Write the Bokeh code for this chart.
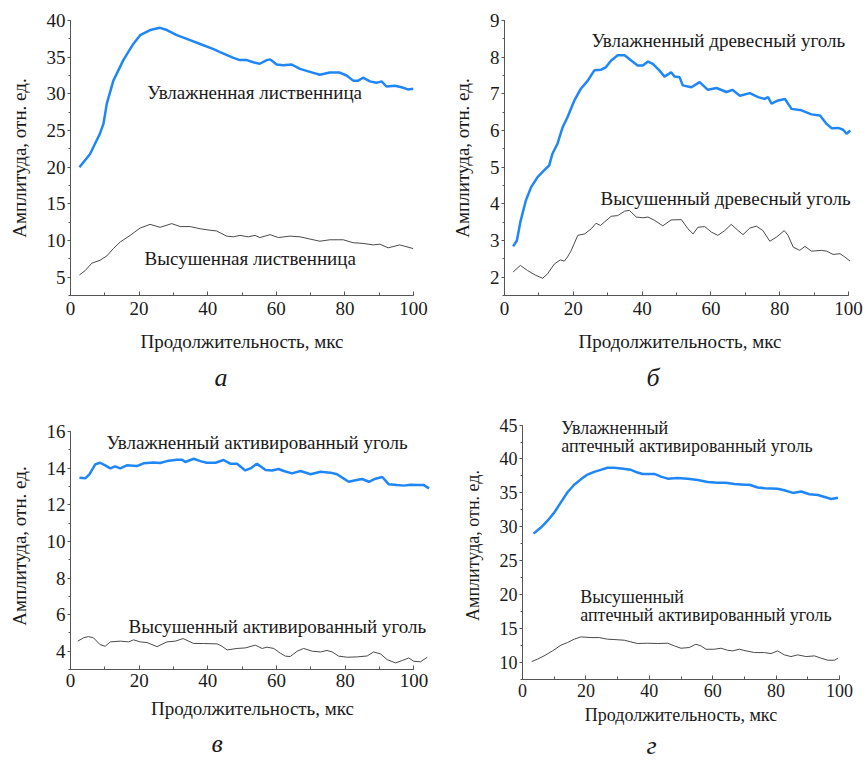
from bokeh.plotting import figure
from bokeh.layouts import column, row
from bokeh.models import Label, SingleIntervalTicker, Title
from bokeh.embed import file_html
from bokeh.resources import INLINE

FONT = "Liberation Serif"
BLUE = "#1f86f7"
GRAY = "#4a4a4a"

# ---- panel a: larch ----
a_wet_x = [2.6, 5.7, 8.6, 9.6, 10.6, 12.5, 15.4, 18.3, 20.3, 23.2, 26.1, 28.1, 31.0, 33.9, 37.8, 41.7, 43.6, 47.5, 49.4, 51.4, 53.3, 55.2, 57.2, 58.2, 60.1, 62.0, 64.5, 66.9, 69.8, 72.7, 75.6, 78.5, 80.5, 82.4, 83.9, 85.3, 87.3, 89.2, 90.7, 92.1, 94.6, 96.5, 98.4, 100.0]
a_wet_y = [20.0, 21.8, 24.6, 25.9, 28.7, 31.8, 34.6, 36.8, 38.0, 38.7, 39.0, 38.7, 38.0, 37.5, 36.8, 36.1, 35.7, 34.9, 34.6, 34.6, 34.3, 34.1, 34.6, 34.7, 34.0, 33.9, 34.0, 33.4, 33.0, 32.6, 32.9, 32.9, 32.5, 31.8, 31.8, 32.2, 31.7, 31.5, 31.7, 31.0, 31.1, 30.9, 30.6, 30.7]
a_dry_x = [2.6, 4.3, 6.2, 8.6, 10.6, 12.5, 14.5, 17.4, 20.3, 23.2, 26.1, 29.5, 32.0, 34.9, 37.8, 40.7, 42.6, 45.5, 47.5, 49.4, 51.8, 53.8, 55.2, 58.2, 60.6, 64.0, 66.9, 69.8, 72.7, 75.6, 79.5, 82.4, 85.3, 88.3, 90.2, 92.6, 96.0, 99.9]
a_dry_y = [5.3, 5.9, 6.9, 7.3, 7.9, 8.9, 9.8, 10.7, 11.7, 12.2, 11.8, 12.3, 11.9, 11.9, 11.6, 11.4, 11.3, 10.6, 10.5, 10.7, 10.5, 10.7, 10.4, 10.8, 10.4, 10.6, 10.5, 10.2, 9.9, 10.1, 10.1, 9.7, 9.6, 9.4, 9.5, 9.0, 9.4, 8.9]

# ---- panel b: charcoal ----
b_wet_x = [2.5, 3.6, 4.6, 6.2, 7.7, 9.6, 11.5, 13.0, 13.9, 15.4, 16.9, 18.3, 20.3, 22.2, 24.2, 26.1, 28.1, 29.5, 31.0, 32.9, 34.9, 36.8, 38.7, 40.2, 41.7, 43.1, 45.0, 46.5, 47.5, 48.4, 49.4, 50.9, 51.8, 54.3, 56.7, 59.1, 61.6, 64.5, 66.2, 68.4, 71.3, 73.7, 75.6, 76.6, 77.6, 79.5, 81.5, 83.4, 86.3, 89.2, 91.7, 93.6, 95.1, 97.0, 98.4, 99.4, 100.5]
b_wet_y = [2.84, 3.0, 3.5, 4.09, 4.45, 4.73, 4.91, 5.05, 5.36, 5.64, 6.09, 6.36, 6.82, 7.14, 7.36, 7.64, 7.66, 7.73, 7.91, 8.05, 8.05, 7.91, 7.77, 7.77, 7.88, 7.82, 7.64, 7.47, 7.53, 7.59, 7.47, 7.45, 7.23, 7.18, 7.32, 7.11, 7.16, 7.05, 7.11, 6.95, 7.02, 6.91, 6.86, 6.91, 6.73, 6.82, 6.86, 6.59, 6.55, 6.44, 6.41, 6.18, 6.06, 6.07, 6.02, 5.91, 6.0]
b_dry_x = [2.5, 4.6, 6.7, 9.1, 11.1, 12.5, 14.5, 16.2, 17.4, 18.3, 19.3, 21.3, 23.3, 25.2, 26.6, 27.9, 29.0, 31.0, 32.9, 34.9, 36.3, 38.3, 40.2, 41.7, 43.6, 46.0, 48.4, 51.4, 53.3, 54.8, 56.2, 58.2, 60.1, 62.0, 64.0, 65.9, 67.9, 69.3, 71.3, 73.2, 75.1, 77.1, 79.0, 81.3, 82.4, 83.9, 85.8, 87.3, 89.2, 92.1, 93.6, 95.5, 97.5, 98.9, 100.4]
b_dry_y = [2.14, 2.32, 2.18, 2.05, 1.97, 2.09, 2.36, 2.47, 2.44, 2.55, 2.71, 3.14, 3.18, 3.32, 3.47, 3.41, 3.5, 3.66, 3.68, 3.8, 3.82, 3.64, 3.62, 3.64, 3.55, 3.4, 3.56, 3.57, 3.32, 3.18, 3.36, 3.38, 3.23, 3.14, 3.27, 3.44, 3.27, 3.16, 3.34, 3.39, 3.27, 2.98, 3.09, 3.27, 3.14, 2.82, 2.73, 2.84, 2.71, 2.73, 2.71, 2.62, 2.64, 2.55, 2.44]

# ---- panel c: activated carbon ----
c_wet_x = [2.6, 4.3, 5.5, 7.2, 8.6, 10.1, 11.6, 13.0, 14.5, 16.4, 19.3, 21.3, 24.2, 26.1, 28.1, 31.0, 32.5, 33.4, 35.9, 37.8, 39.7, 42.2, 44.6, 46.5, 48.5, 50.9, 52.4, 54.3, 56.8, 58.7, 60.6, 62.1, 64.5, 67.0, 69.9, 72.8, 75.7, 77.6, 79.6, 81.0, 83.0, 84.9, 86.9, 88.8, 90.8, 92.7, 95.1, 97.1, 99.0, 101.0, 102.9, 104.4]
c_wet_y = [13.48, 13.45, 13.67, 14.21, 14.30, 14.16, 13.99, 14.10, 13.99, 14.16, 14.12, 14.27, 14.32, 14.29, 14.39, 14.47, 14.47, 14.34, 14.52, 14.39, 14.30, 14.30, 14.45, 14.25, 14.25, 13.88, 13.99, 14.25, 13.90, 13.88, 13.96, 13.85, 13.72, 13.85, 13.67, 13.81, 13.76, 13.67, 13.43, 13.26, 13.34, 13.41, 13.26, 13.43, 13.52, 13.12, 13.08, 13.05, 13.10, 13.08, 13.08, 12.90]
c_dry_x = [2.1, 3.8, 5.2, 6.7, 8.6, 10.1, 11.6, 14.5, 16.9, 18.4, 20.3, 22.3, 25.2, 28.1, 30.5, 32.8, 35.9, 38.8, 42.7, 44.1, 45.6, 48.5, 50.9, 53.8, 55.8, 57.2, 59.2, 61.1, 62.6, 64.0, 66.0, 67.9, 70.4, 72.8, 74.7, 76.2, 78.1, 80.6, 83.5, 86.4, 88.3, 90.3, 92.2, 94.7, 96.6, 98.5, 100.0, 101.9, 103.9]
c_dry_y = [4.55, 4.73, 4.80, 4.73, 4.36, 4.27, 4.51, 4.55, 4.51, 4.62, 4.51, 4.47, 4.25, 4.51, 4.55, 4.69, 4.42, 4.42, 4.40, 4.27, 4.07, 4.15, 4.18, 4.33, 4.15, 4.22, 4.15, 3.89, 3.73, 3.71, 4.00, 4.15, 4.00, 3.96, 4.04, 3.96, 3.73, 3.67, 3.69, 3.74, 3.96, 3.85, 3.54, 3.36, 3.49, 3.63, 3.45, 3.42, 3.67]

# ---- panel d: pharmacy activated carbon ----
d_wet_x = [3.5, 5.8, 7.9, 10.0, 12.1, 14.2, 16.3, 18.4, 20.5, 22.6, 24.7, 26.8, 28.9, 31.1, 34.2, 36.3, 37.9, 39.5, 41.6, 43.7, 45.8, 48.9, 52.1, 55.3, 58.4, 61.6, 64.2, 66.8, 70.0, 71.6, 74.2, 76.3, 80.5, 82.6, 85.3, 87.9, 90.5, 93.2, 95.3, 97.4, 99.5]
d_wet_y = [29.0, 29.9, 30.9, 32.1, 33.6, 35.1, 36.2, 37.0, 37.7, 38.1, 38.4, 38.7, 38.7, 38.6, 38.4, 38.0, 37.8, 37.8, 37.8, 37.4, 37.1, 37.2, 37.1, 36.9, 36.6, 36.5, 36.5, 36.3, 36.2, 36.2, 35.8, 35.7, 35.6, 35.4, 35.0, 35.2, 34.8, 34.7, 34.4, 34.1, 34.3]
d_dry_x = [2.9, 4.7, 6.8, 9.5, 12.1, 14.2, 16.3, 18.4, 21.6, 24.2, 26.8, 28.9, 32.1, 34.2, 36.3, 39.5, 42.6, 45.8, 47.9, 50.0, 52.6, 54.7, 56.3, 57.9, 60.5, 62.6, 64.7, 66.3, 68.4, 70.5, 73.2, 76.3, 78.4, 80.5, 82.6, 84.7, 86.8, 89.5, 92.1, 94.2, 96.3, 98.4, 99.5]
d_dry_y = [10.14, 10.49, 10.98, 11.72, 12.55, 12.95, 13.44, 13.78, 13.68, 13.68, 13.44, 13.39, 13.29, 13.04, 12.80, 12.85, 12.80, 12.85, 12.45, 12.11, 12.21, 12.70, 12.45, 11.96, 11.96, 12.11, 11.81, 11.72, 11.96, 11.72, 11.47, 11.47, 11.32, 11.72, 11.13, 10.88, 11.13, 10.88, 10.98, 10.64, 10.34, 10.34, 10.64]

x_label = "Продолжительность, мкс"
y_label = "Амплитуда, отн. ед."
panel_letters = ["а", "б", "в", "г"]


def make_panel(width, height, borders, x_rng, y_rng, y_int, x_bounds=None, y_bounds=None,
               tick_standoff=6, label_standoff=13, font_size="19px"):
    left, right, top, bottom = borders
    p = figure(width=width, height=height, output_backend="svg", toolbar_location=None,
               x_range=x_rng, y_range=y_rng, frame_align=False,
               min_border_left=left, min_border_right=right,
               min_border_top=top, min_border_bottom=bottom)
    p.outline_line_color = None
    p.grid.visible = False
    p.background_fill_color = "white"
    p.border_fill_color = "white"
    p.xaxis.ticker = SingleIntervalTicker(interval=20, num_minor_ticks=2)
    p.yaxis.ticker = SingleIntervalTicker(interval=y_int, num_minor_ticks=2)
    if x_bounds is not None:
        p.xaxis.bounds = x_bounds
    if y_bounds is not None:
        p.yaxis.bounds = y_bounds
    for ax in (p.xaxis, p.yaxis):
        ax.axis_line_color = "#555555"
        ax.major_tick_line_color = "#555555"
        ax.minor_tick_line_color = "#555555"
        ax.major_label_text_font = FONT
        ax.major_label_text_font_size = font_size
        ax.major_label_text_color = "#1a1a1a"
        ax.axis_label_text_font = FONT
        ax.axis_label_text_font_size = font_size
        ax.axis_label_text_font_style = "normal"
        ax.axis_label_text_color = "#1a1a1a"
    p.xaxis.major_tick_in = 4
    p.xaxis.major_tick_out = 0
    p.xaxis.minor_tick_in = 3
    p.xaxis.minor_tick_out = 0
    p.xaxis.major_label_standoff = tick_standoff
    p.xaxis.axis_label = x_label
    p.xaxis.axis_label_standoff = label_standoff
    p.yaxis.major_tick_in = 0
    p.yaxis.major_tick_out = 3
    p.yaxis.minor_tick_in = 0
    p.yaxis.minor_tick_out = 2
    p.yaxis.major_label_standoff = 2
    p.yaxis.axis_label = y_label
    p.yaxis.axis_label_standoff = 14
    return p


def note(p, x, y, text, size="19px"):
    p.add_layout(Label(x=x, y=y, text=text, text_font=FONT, text_font_size=size,
                       text_color="#1a1a1a", text_baseline="middle", text_align="left"))


def letter(p, text, offset, standoff):
    p.add_layout(Title(text=text, align="left", offset=offset, text_font=FONT,
                       text_font_size="26px", text_font_style="italic",
                       text_color="#1a1a1a", standoff=standoff), "below")


pa = make_panel(434, 400, (70, 21, 20, 105), (0, 100), (2.5, 40), 5)
pa.line(a_wet_x, a_wet_y, line_color=BLUE, line_width=2.5)
pa.line(a_dry_x, a_dry_y, line_color=GRAY, line_width=1)
note(pa, 22.4, 30.2, "Увлажненная лиственница")
note(pa, 21.6, 7.6, "Высушенная лиственница")
letter(pa, panel_letters[0], 144, 12)

pb = make_panel(434, 400, (70, 13, 20, 105), (0, 102), (1.5, 9), 1, x_bounds=(0, 100))
pb.line(b_wet_x, b_wet_y, line_color=BLUE, line_width=2.5)
pb.line(b_dry_x, b_dry_y, line_color=GRAY, line_width=1)
note(pb, 25.3, 8.45, "Увлажненный древесный уголь")
note(pb, 27.9, 4.15, "Высушенный древесный уголь")
letter(pb, panel_letters[1], 142, 12)

pc = make_panel(434, 365, (70, 0, 22, 96), (0, 106), (3, 16.5), 2, x_bounds=(0, 100),
                y_bounds=(3, 16), tick_standoff=4, label_standoff=8)
pc.line(c_wet_x, c_wet_y, line_color=BLUE, line_width=2.5)
pc.line(c_dry_x, c_dry_y, line_color=GRAY, line_width=1)
note(pc, 10.5, 15.38, "Увлажненный активированный уголь")
note(pc, 16.9, 5.37, "Высушенный активированный уголь")
letter(pc, panel_letters[2], 141, 10)

pd_ = make_panel(434, 365, (88, 29, 11, 86), (0, 100), (7.5, 47), 5, y_bounds=(7.5, 45),
                 tick_standoff=4, label_standoff=5, font_size="18px")
pd_.line(d_wet_x, d_wet_y, line_color=BLUE, line_width=2.5)
pd_.line(d_dry_x, d_dry_y, line_color=GRAY, line_width=1)
note(pd_, 12.2, 44.6, "Увлажненный", "18px")
note(pd_, 12.2, 41.9, "аптечный активированный уголь", "18px")
note(pd_, 18.2, 19.7, "Высушенный", "18px")
note(pd_, 18.2, 17.0, "аптечный активированный уголь", "18px")
letter(pd_, panel_letters[3], 124, 3)

layout = column(row(pa, pb), row(pc, pd_))

open("out.html", "w").write(file_html(layout, INLINE))
